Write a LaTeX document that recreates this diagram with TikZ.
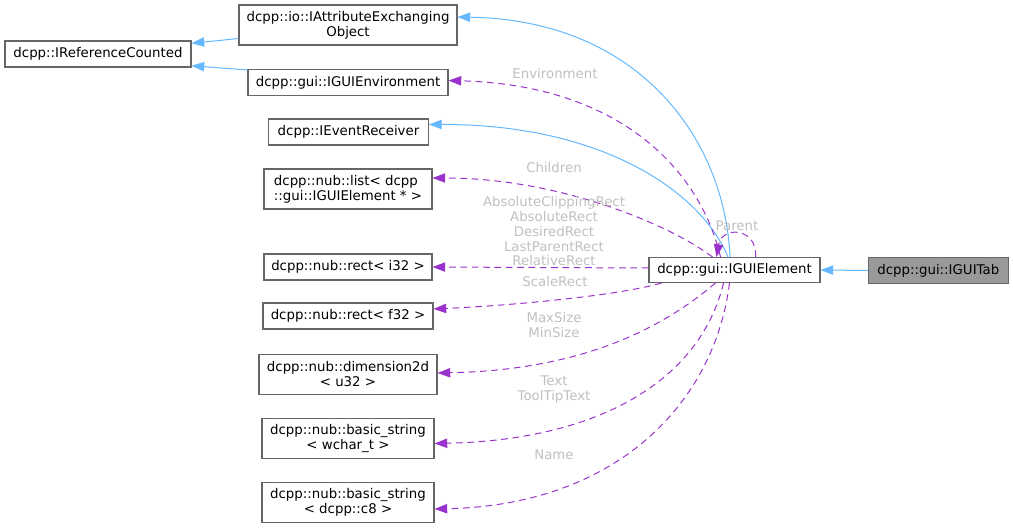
\documentclass[tikz,border=0pt]{standalone}
\usepackage{fontspec}
\setmainfont{DejaVu Sans}
\usetikzlibrary{arrows.meta,calc}
\definecolor{inhc}{HTML}{63B8FF}
\definecolor{usec}{HTML}{9A32CD}
\definecolor{bord}{HTML}{666666}
\definecolor{lblc}{HTML}{C0C0C0}
\definecolor{tabfill}{HTML}{999999}
\begin{document}
\begin{tikzpicture}[x=0.75pt,y=-0.75pt,
  cls/.style={draw=bord, line width=0.8pt, fill=white, inner sep=0pt, align=center,
    font=\fontsize{10}{11.25}\selectfont},
  inh/.style={draw=inhc, line width=0.75pt, -{Triangle[length=9.5pt,width=7pt]}},
  use/.style={draw=usec, line width=0.75pt, dash pattern=on 5pt off 3.5pt,
    -{Triangle[length=9.5pt,width=7pt]}},
  lbl/.style={text=lblc, inner sep=0pt, align=center, font=\fontsize{10}{11.1}\selectfont}
]
\useasboundingbox (0,0) rectangle (1013,528);

% nodes
\node[cls, minimum width=186*0.75pt, minimum height=26*0.75pt] (ref) at (98,54) {dcpp::IReferenceCounted};
\node[cls, minimum width=218*0.75pt, minimum height=40*0.75pt] (attr) at (348,25) {dcpp::io::IAttributeExchanging\\Object};
\node[cls, minimum width=200*0.75pt, minimum height=26*0.75pt] (env) at (348,82.5) {dcpp::gui::IGUIEnvironment};
\node[cls, minimum width=160*0.75pt, minimum height=26*0.75pt] (evt) at (348.5,132) {dcpp::IEventReceiver};
\node[cls, minimum width=168*0.75pt, minimum height=40*0.75pt, align=left] (list) at (348,189) {dcpp::nub::list< dcpp\\::gui::IGUIElement * >};
\node[cls, minimum width=168*0.75pt, minimum height=26*0.75pt] (ri) at (348,267) {dcpp::nub::rect< i32 >};
\node[cls, minimum width=170*0.75pt, minimum height=26*0.75pt] (rf) at (348,316) {dcpp::nub::rect< f32 >};
\node[cls, minimum width=178*0.75pt, minimum height=40*0.75pt] (dim) at (348,374.5) {dcpp::nub::dimension2d\\< u32 >};
\node[cls, minimum width=172*0.75pt, minimum height=40*0.75pt] (ws) at (348,438.5) {dcpp::nub::basic\_string\\< wchar\_t >};
\node[cls, minimum width=172*0.75pt, minimum height=40*0.75pt] (cs) at (348,502.5) {dcpp::nub::basic\_string\\< dcpp::c8 >};
\node[cls, minimum width=171*0.75pt, minimum height=25*0.75pt] (elem) at (734.5,270) {dcpp::gui::IGUIElement};
\node[cls, fill=tabfill, minimum width=140*0.75pt, minimum height=26*0.75pt] (tab) at (938.3,270.5) {dcpp::gui::IGUITab};

% inheritance
\draw[inh] ($(attr.south west)+(0,-7)$) -- ($(ref.east)+(0,-10.7)$);
\draw[inh] ($(env.north west)+(0,1)$) -- ($(ref.east)+(0,11.7)$);
\draw[inh] ($(elem.north)+(-4.5,0)$) .. controls (725,140) and (640,20) .. ($(attr.east)+(0,-8)$);
\draw[inh] ($(elem.north)+(-6.5,0)$) .. controls (700,190) and (600,124) .. ($(evt.east)+(0,-7.5)$);
\draw[inh] (tab.west) -- (elem.east);

% usage
\draw[use] ($(elem.north)+(-14,0)$) .. controls (700,170) and (620,85) .. ($(env.east)+(0,-2)$);
\draw[use] ($(elem.north)+(-22,0)$) .. controls (670,225) and (560,178) .. ($(list.east)+(0,-11)$);
\draw[use] ($(elem.west)+(0,-2)$) -- (ri.east);
\draw[use] ($(elem.south west)+(13,0)$) .. controls (620,295) and (520,305) .. ($(rf.east)+(0,-7)$);
\draw[use] ($(elem.south)+(-19,0)$) .. controls (660,330) and (580,370) .. ($(dim.east)+(0,-1.5)$);
\draw[use] ($(elem.south)+(-11,0)$) .. controls (700,380) and (600,440) .. ($(ws.east)+(0,5)$);
\draw[use] ($(elem.south)+(-5,0)$) .. controls (715,400) and (620,505) .. ($(cs.east)+(0,6.5)$);
\draw[use] ($(elem.north)+(21,0)$) .. controls (758,228) and (722,225) .. ($(elem.north)+(-18,0)$);

% labels
\node[lbl] (lenv) at (555,74) {Environment};
\node[lbl] (lchi) at (554,168) {Children};
\node[lbl] (lrect) at (554,231.3) {AbsoluteClippingRect\\AbsoluteRect\\DesiredRect\\LastParentRect\\RelativeRect};
\node[lbl] (lsca) at (555,282) {ScaleRect};
\node[lbl] (lsize) at (554,325) {MaxSize\\MinSize};
\node[lbl] (ltext) at (554,389.5) {Text\\ToolTipText};
\node[lbl] (lname) at (554,455) {Name};
\node[lbl] (lpar) at (737,226) {Parent};
\end{tikzpicture}
\end{document}
